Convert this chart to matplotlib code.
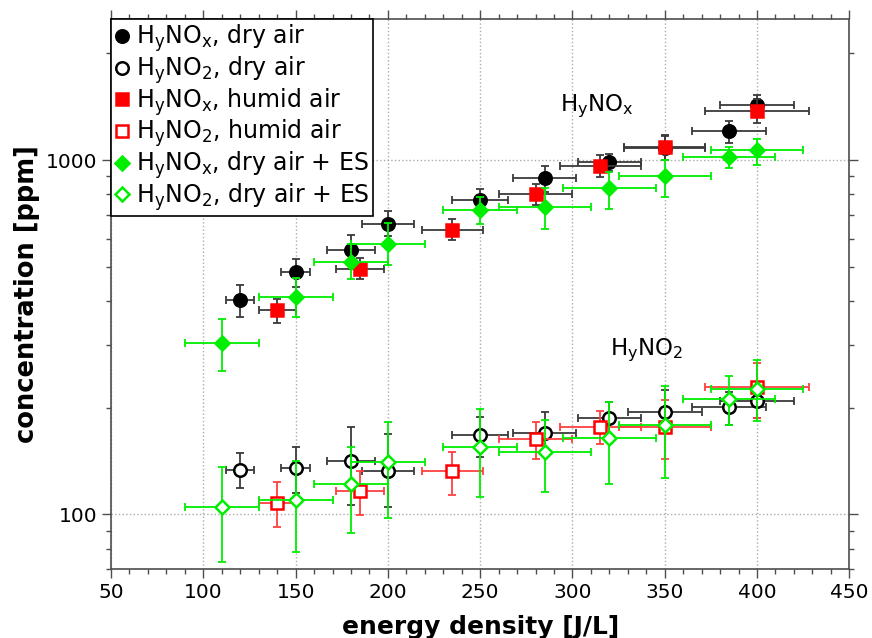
import numpy as np
import matplotlib
matplotlib.use('Agg')
import matplotlib.pyplot as plt
from matplotlib.ticker import MultipleLocator, FixedLocator, NullFormatter, FuncFormatter

# HyNOx, dry air
x_nox_dry = [120, 150, 180, 200, 250, 285, 320, 350, 385, 400]
y_nox_dry = [404, 483, 556, 662, 771, 888, 985, 1080, 1210, 1430]
lo_nox_dry = [360, 438, 505, 609, 706, 814, 930, 1000, 1120, 1340]
hi_nox_dry = [445, 526, 614, 719, 830, 961, 1040, 1170, 1291, 1527]
xe_nox_dry = [7.5, 8, 13, 14, 15, 17, 17, 22, 20, 20]

# HyNO2, dry air
x_no2_dry = [120, 150, 180, 200, 250, 285, 320, 350, 385, 400]
y_no2_dry = [133.8, 135, 141.9, 132.9, 167.7, 169.9, 186.8, 194.2, 201.6, 208.7]
lo_no2_dry = [118.8, 114.7, 106.5, 104.6, 145.5, 147.6, 167, 172.4, 178.9, 187.2]
hi_no2_dry = [149, 155, 177, 168.8, 188, 195, 208.3, 224.9, 222, 232.5]
xe_no2_dry = [7.5, 8, 13, 14, 15, 17, 17, 20, 20, 20]

# HyNOx, humid air
x_nox_hum = [140, 185, 235, 280, 315, 350, 400]
y_nox_hum = [377, 494, 637, 801, 961, 1086, 1379]
lo_nox_hum = [347, 461, 595, 745, 898, 1003, 1275]
hi_nox_hum = [406, 530, 681, 858, 1037, 1177, 1490]
xe_nox_hum = [10, 13, 16.5, 20, 22, 22, 28]

# HyNO2, humid air
x_no2_hum = [140, 185, 235, 280, 315, 350, 400]
y_no2_hum = [107.7, 116.2, 132.9, 163.4, 176.2, 176.2, 228.6]
lo_no2_hum = [91.9, 99.8, 113.7, 143.4, 158.1, 143.4, 187.2]
hi_no2_hum = [123.1, 132.9, 149.7, 182.9, 195.5, 210.5, 267]
xe_no2_hum = [10, 13, 16.5, 20, 22, 25, 28]

# HyNOx, dry air + ES
x_nox_es = [110, 150, 180, 200, 250, 285, 320, 350, 385, 400]
y_nox_es = [305, 411, 516, 581, 725, 738, 832, 900, 1018, 1067]
lo_nox_es = [254, 360, 461, 507, 662, 641, 727, 789, 952, 968]
hi_nox_es = [357, 465, 580, 665, 787, 835, 927, 1003, 1088, 1150]
xe_nox_es = [20, 20, 20, 20, 20, 25, 25, 25, 25, 25]

# HyNO2, dry air + ES
x_no2_es = [110, 150, 180, 200, 250, 285, 320, 350, 385, 400]
y_no2_es = [105.1, 110, 121.9, 140.3, 155.4, 150.4, 164.4, 179, 212, 226.2]
lo_no2_es = [73.2, 78.1, 88.4, 97.4, 112.2, 115.4, 121.9, 126.7, 178.9, 183.3]
hi_no2_es = [136.4, 141.8, 155.3, 182.8, 198.6, 184.8, 208.3, 231, 245.6, 272]
xe_no2_es = [20, 20, 20, 20, 20, 25, 25, 25, 25, 25]

NOX = r'H$_\mathregular{y}$NO$_\mathregular{x}$'
NO2 = r'H$_\mathregular{y}$NO$_\mathregular{2}$'

series = [
    (x_nox_dry, y_nox_dry, lo_nox_dry, hi_nox_dry, xe_nox_dry, 'o', True, 'black', '#3a3a3a', NOX + ', dry air'),
    (x_no2_dry, y_no2_dry, lo_no2_dry, hi_no2_dry, xe_no2_dry, 'o', False, 'black', '#3a3a3a', NO2 + ', dry air'),
    (x_nox_hum, y_nox_hum, lo_nox_hum, hi_nox_hum, xe_nox_hum, 's', True, 'red', '#3a3a3a', NOX + ', humid air'),
    (x_no2_hum, y_no2_hum, lo_no2_hum, hi_no2_hum, xe_no2_hum, 's', False, 'red', '#ff4040', NO2 + ', humid air'),
    (x_nox_es, y_nox_es, lo_nox_es, hi_nox_es, xe_nox_es, 'D', True, '#00ee00', '#00ee00', NOX + ', dry air + ES'),
    (x_no2_es, y_no2_es, lo_no2_es, hi_no2_es, xe_no2_es, 'D', False, '#00ee00', '#00ee00', NO2 + ', dry air + ES'),
]
msize = {'o': 9, 's': 8.5, 'D': 7}

fig = plt.figure(figsize=(8.72, 6.38), dpi=100)
ax = fig.add_axes([0.1273, 0.1077, 0.974 - 0.1273, 0.970 - 0.1077])

for x, y, lo, hi, xe, m, filled, c, ec, lab in series:
    y = np.array(y)
    yerr = [y - np.array(lo), np.array(hi) - y]
    ax.errorbar(x, y, yerr=yerr, xerr=xe, fmt='none', ecolor=ec, elinewidth=1.3,
                capsize=3, capthick=1.3)
    ax.plot(x, y, ls='none', marker=m, ms=msize[m], mec=c, mew=1.8,
            mfc=c if filled else 'white', label=lab)

ax.set_yscale('log')
ax.set_xlim(50, 450)
ax.set_ylim(70, 2500)

ax.xaxis.set_major_locator(MultipleLocator(50))
ax.xaxis.set_minor_locator(MultipleLocator(10))
ax.yaxis.set_major_locator(FixedLocator([100, 1000]))
ax.yaxis.set_major_formatter(FuncFormatter(lambda v, p: '%d' % v))
ax.yaxis.set_minor_formatter(NullFormatter())

ax.tick_params(which='both', direction='out', top=True, right=True, color='0.3',
               labelsize=14.5)
ax.tick_params(which='major', length=6.5, width=1)
ax.tick_params(which='minor', length=3.6, width=1)
for s in ax.spines.values():
    s.set_color('0.3')
    s.set_linewidth(1.2)

ax.grid(True, which='major', ls=':', color='#aaaaaa', lw=1)

ax.set_xlabel('energy density [J/L]', fontsize=18, fontweight='bold', labelpad=9)
ax.set_ylabel('concentration [ppm]', fontsize=18.5, fontweight='bold', labelpad=4)

ax.text(313, 1421, NOX, fontsize=16.5, ha='center', va='center')
ax.text(340, 290, NO2, fontsize=16.5, ha='center', va='center')

leg = ax.legend(loc='upper left', fontsize=17, numpoints=1, handlelength=0.6,
                handletextpad=0.3, borderaxespad=0, borderpad=0.15,
                labelspacing=0.0, fancybox=False, framealpha=1)
leg.get_frame().set_edgecolor('black')
leg.get_frame().set_linewidth(1.2)

fig.savefig('out.png', dpi=100)
